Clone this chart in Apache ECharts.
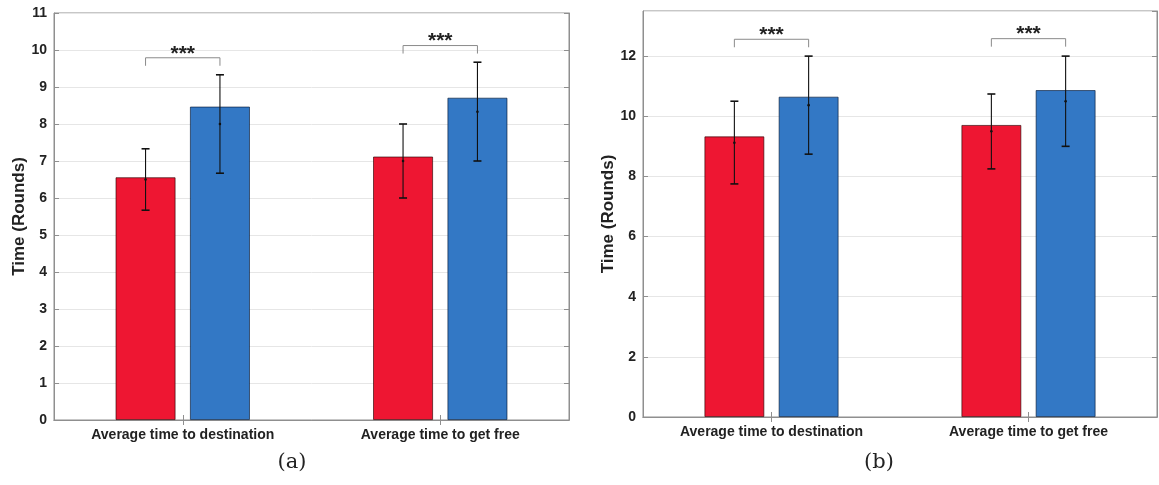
<!DOCTYPE html>
<html>
<head>
<meta charset="utf-8">
<script src="https://cdn.jsdelivr.net/npm/echarts@6/dist/echarts.min.js"></script>
<style>
  html, body { margin: 0; padding: 0; background: #fff; }
  #chart { width: 1159px; height: 485px; }
</style>
</head>
<body>
<div id="chart"></div>
<script>
// ---------- DATA ----------
const categories = ['Average time to destination', 'Average time to get free'];
const yAxisName = 'Time (Rounds)';
const captions = ['(a)', '(b)'];
const sigLabel = '***';

// Panel (a)
const aAxisMax = 11, aAxisInterval = 1;
const aRedBar   = [6.56, 7.12];
const aBlueBar  = [8.47, 8.71];
const aRedMean  = [6.5, 7.0];
const aRedLow   = [5.67, 6.0];
const aRedHigh  = [7.33, 8.0];
const aBlueMean = [8.0, 8.33];
const aBlueLow  = [6.67, 7.0];
const aBlueHigh = [9.33, 9.67];
const aSigY     = [9.79, 10.12];

// Panel (b)
const bAxisMax = 13.5, bAxisInterval = 2;
const bRedBar   = [9.33, 9.71];
const bBlueBar  = [10.65, 10.87];
const bRedMean  = [9.12, 9.5];
const bRedLow   = [7.75, 8.25];
const bRedHigh  = [10.5, 10.74];
const bBlueMean = [10.37, 10.5];
const bBlueLow  = [8.74, 9.0];
const bBlueHigh = [12.0, 12.0];
const bSigY     = [12.56, 12.58];

// ---------- STYLE ----------
const RED = '#EE1632';
const BLUE = '#3378C5';
const BOX = '#8f8f8f';
const TXT = '#222';
const BAR_W = 0.233;   // fraction of band
const BAR_GAP = 0.24;  // fraction of bar width
const FONT = '"Liberation Sans", Arial, sans-serif';

const grids = [
  { left: 54, top: 13, width: 515, height: 407 },
  { left: 643, top: 11, width: 514, height: 406 }
];

function barOffset(api) {
  const band = api.size([1, 0])[0];
  return band * BAR_W * (1 + BAR_GAP) / 2;
}

function errorRender(params, api) {
  const i = api.value(0);
  const side = api.value(4);
  const off = barOffset(api) * side;
  const pm = api.coord([i, api.value(1)]);
  const pl = api.coord([i, api.value(2)]);
  const ph = api.coord([i, api.value(3)]);
  const x = pm[0] + off;
  const cap = 4;
  const st = { stroke: '#111', lineWidth: 1.1 };
  return {
    type: 'group',
    children: [
      { type: 'line', shape: { x1: x, y1: pl[1], x2: x, y2: ph[1] }, style: st },
      { type: 'line', shape: { x1: x - cap, y1: pl[1], x2: x + cap, y2: pl[1] }, style: { stroke: '#111', lineWidth: 1.6 } },
      { type: 'line', shape: { x1: x - cap, y1: ph[1], x2: x + cap, y2: ph[1] }, style: { stroke: '#111', lineWidth: 1.6 } },
      { type: 'circle', shape: { cx: x, cy: pm[1], r: 1.3 }, style: { fill: '#111' } }
    ]
  };
}

function sigRender(params, api) {
  const i = api.value(0);
  const p = api.coord([i, api.value(1)]);
  const off = barOffset(api);
  const xl = p[0] - off, xr = p[0] + off, y = p[1];
  const drop = 8;
  return {
    type: 'group',
    children: [
      { type: 'polyline', shape: { points: [[xl, y + drop], [xl, y], [xr, y], [xr, y + drop]] },
        style: { stroke: '#8a8a8a', lineWidth: 1, fill: null } },
      { type: 'text', x: p[0], y: y - 4,
        style: { text: sigLabel, fill: TXT, fontSize: 21, fontWeight: 'bold', fontFamily: FONT,
                 align: 'center', verticalAlign: 'middle' } }
    ]
  };
}

function errData(mean, low, high, side) {
  return categories.map((c, i) => [i, mean[i], low[i], high[i], side]);
}

const xAxes = [], yAxes = [], series = [];
const panels = [
  { max: aAxisMax, interval: aAxisInterval, red: aRedBar, blue: aBlueBar,
    rm: aRedMean, rl: aRedLow, rh: aRedHigh, bm: aBlueMean, bl: aBlueLow, bh: aBlueHigh, sig: aSigY },
  { max: bAxisMax, interval: bAxisInterval, red: bRedBar, blue: bBlueBar,
    rm: bRedMean, rl: bRedLow, rh: bRedHigh, bm: bBlueMean, bl: bBlueLow, bh: bBlueHigh, sig: bSigY }
];

panels.forEach((p, g) => {
  xAxes.push({
    type: 'category', gridIndex: g, data: categories, position: 'bottom',
    axisLine: { show: true, lineStyle: { color: BOX, width: 1 } },
    axisTick: { show: true, inside: true, alignWithLabel: true, length: 5, lineStyle: { color: BOX } },
    axisLabel: { color: TXT, fontSize: 14, fontWeight: 'bold', fontFamily: FONT, margin: 8 },
    splitLine: { show: false }
  });
  xAxes.push({
    type: 'category', gridIndex: g, data: categories, position: 'top',
    axisLine: { show: true, lineStyle: { color: BOX, width: 1 } },
    axisTick: { show: true, inside: true, alignWithLabel: true, length: 5, lineStyle: { color: BOX } },
    axisLabel: { show: false }, splitLine: { show: false }
  });
  yAxes.push({
    type: 'value', gridIndex: g, min: 0, max: p.max, interval: p.interval, position: 'left',
    name: yAxisName, nameLocation: 'middle', nameGap: 24,
    nameTextStyle: { color: TXT, fontSize: 17, fontWeight: 'bold', fontFamily: FONT },
    axisLine: { show: true, lineStyle: { color: BOX, width: 1 } },
    axisTick: { show: true, inside: true, length: 5, lineStyle: { color: BOX } },
    axisLabel: { color: TXT, fontSize: 14, fontWeight: 'bold', fontFamily: FONT, margin: 7, showMaxLabel: p.max % p.interval === 0 },
    splitLine: { show: true, lineStyle: { color: '#e6e6e6', width: 1 } }
  });
  yAxes.push({
    type: 'value', gridIndex: g, min: 0, max: p.max, interval: p.interval, position: 'right',
    axisLine: { show: true, lineStyle: { color: BOX, width: 1 } },
    axisTick: { show: true, inside: true, length: 5, lineStyle: { color: BOX } },
    axisLabel: { show: false }, splitLine: { show: false }
  });

  const xi = 2 * g, yi = 2 * g;
  series.push({
    type: 'bar', xAxisIndex: xi, yAxisIndex: yi, data: p.red,
    barWidth: (BAR_W * 100) + '%', barGap: (BAR_GAP * 100) + '%',
    itemStyle: { color: RED, borderColor: 'rgba(40,0,0,0.7)', borderWidth: 0.9 },
    silent: true, z: 2
  });
  series.push({
    type: 'bar', xAxisIndex: xi, yAxisIndex: yi, data: p.blue,
    barWidth: (BAR_W * 100) + '%', barGap: (BAR_GAP * 100) + '%',
    itemStyle: { color: BLUE, borderColor: 'rgba(0,20,50,0.7)', borderWidth: 0.9 },
    silent: true, z: 2
  });
  series.push({
    type: 'custom', xAxisIndex: xi, yAxisIndex: yi, renderItem: errorRender,
    data: errData(p.rm, p.rl, p.rh, -1), encode: { x: 0, y: [1, 2, 3] }, z: 4, silent: true
  });
  series.push({
    type: 'custom', xAxisIndex: xi, yAxisIndex: yi, renderItem: errorRender,
    data: errData(p.bm, p.bl, p.bh, 1), encode: { x: 0, y: [1, 2, 3] }, z: 4, silent: true
  });
  series.push({
    type: 'custom', xAxisIndex: xi, yAxisIndex: yi, renderItem: sigRender,
    data: categories.map((c, i) => [i, p.sig[i]]), encode: { x: 0, y: 1 }, z: 4, silent: true
  });
});

const chart = echarts.init(document.getElementById('chart'), null, { renderer: 'canvas' });
chart.setOption({
  animation: false,
  backgroundColor: '#fff',
  grid: grids.map(g => Object.assign({ show: true, borderColor: BOX, borderWidth: 1, backgroundColor: 'transparent', containLabel: false }, g)),
  xAxis: xAxes,
  yAxis: yAxes,
  series: series,
  graphic: [
    { type: 'text', x: 292, y: 463, style: { text: captions[0], fill: TXT, fontSize: 21, fontFamily: '"DejaVu Serif", "Liberation Serif", serif', align: 'center', verticalAlign: 'middle' } },
    { type: 'text', x: 879, y: 463, style: { text: captions[1], fill: TXT, fontSize: 21, fontFamily: '"DejaVu Serif", "Liberation Serif", serif', align: 'center', verticalAlign: 'middle' } }
  ]
});
</script>
</body>
</html>
